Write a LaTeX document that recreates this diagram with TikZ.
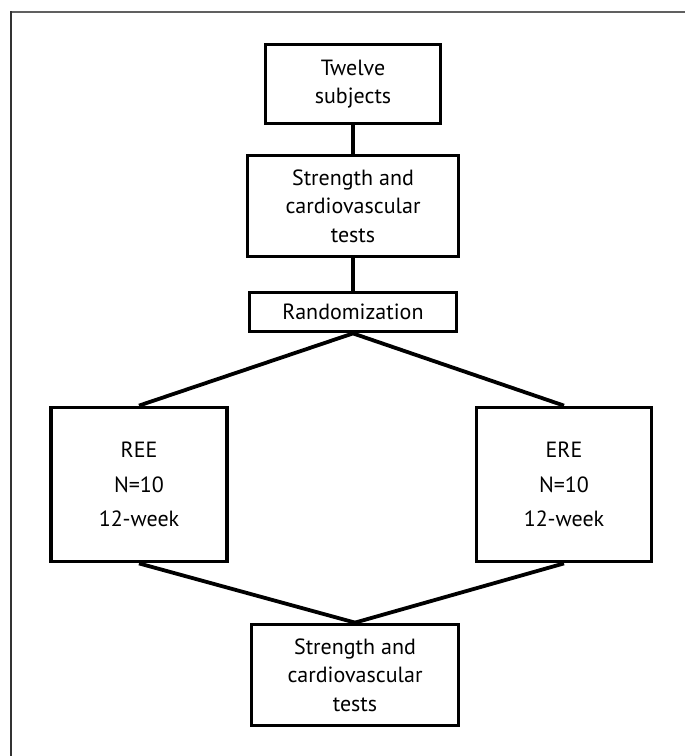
\documentclass[tikz,border=0pt]{standalone}
\usepackage{fontspec}
\setmainfont{PT Sans}
\begin{document}
\begin{tikzpicture}[x=1pt,y=-1pt,
  box/.style={draw=black,line width=3.8pt,inner sep=0pt,align=center,
    font=\fontsize{22}{28.5}\selectfont},
  conn/.style={line width=3.8pt,draw=black}]
\useasboundingbox (0,0) rectangle (685,756);
\draw[gray!75!black,line width=2pt] (685,12) -- (11,12);
\draw[black!80,line width=1.6pt] (11,11) -- (11,756);
\node[box,minimum width=175pt,minimum height=79pt] (b1) at (353,84) {Twelve\\subjects};
\node[box,minimum width=211pt,minimum height=101pt] (b2) at (353,206) {Strength and\\cardiovascular\\tests};
\node[box,minimum width=207pt,minimum height=39pt] (b3) at (353,312) {Randomization};
\node[box,minimum width=176pt,minimum height=154pt,font=\fontsize{22}{34.5}\selectfont] (l) at (139,484.5) {REE\\N=10\\12-week};
\node[box,minimum width=175pt,minimum height=154pt,font=\fontsize{22}{34.5}\selectfont] (r) at (564,484.5) {ERE\\N=10\\12-week};
\node[box,minimum width=207pt,minimum height=101pt] (bt) at (355,675) {Strength and\\cardiovascular\\tests};
\draw[conn] (b1.south) -- (b2.north);
\draw[conn] (b2.south) -- (b3.north);
\draw[conn] (b3.south) -- (l.north);
\draw[conn] (b3.south) -- (r.north);
\draw[conn] (l.south) -- (bt.north);
\draw[conn] (r.south) -- (bt.north);
\end{tikzpicture}
\end{document}
